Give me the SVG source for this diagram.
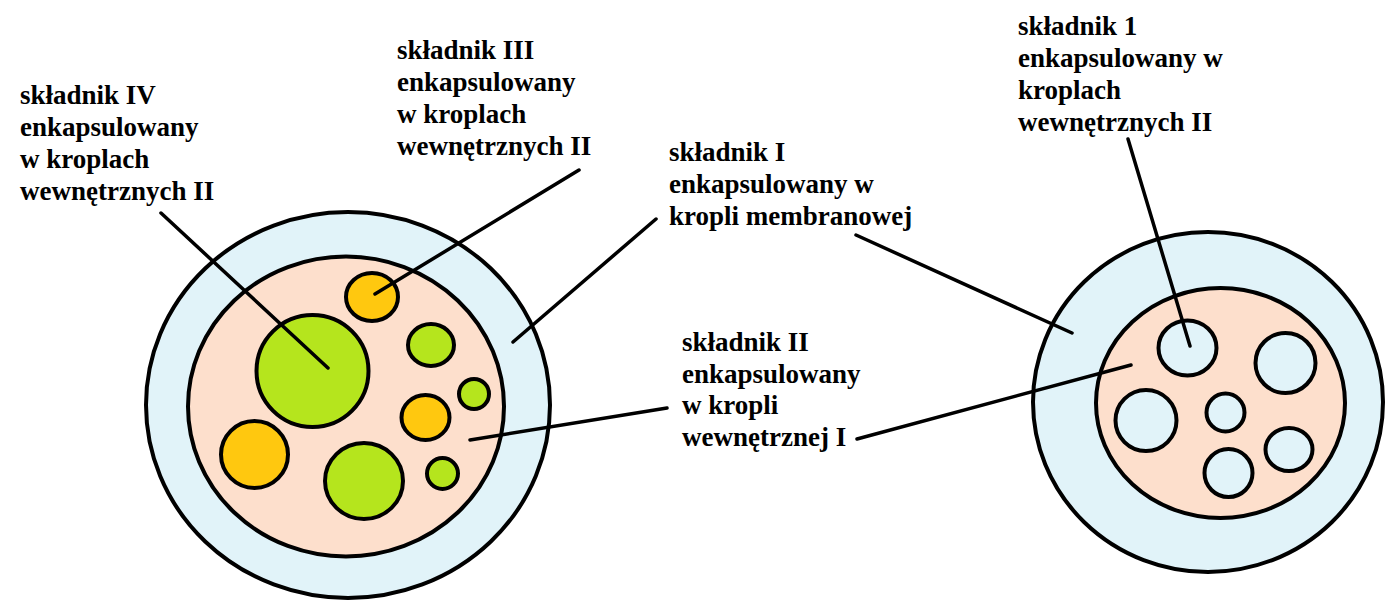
<svg xmlns="http://www.w3.org/2000/svg" width="1385" height="601" viewBox="0 0 1385 601">
  <style>
    .lbl { font-family: "Liberation Serif", "Times New Roman", serif; font-weight: bold; font-size: 27px; fill: #000; }
    .ring { fill: #E1F3F9; stroke: #000; stroke-width: 4; }
    .core { fill: #FDDFCC; stroke: #000; stroke-width: 4; }
    .green { fill: #B5E51D; stroke: #000; stroke-width: 4; }
    .orange { fill: #FFC80F; stroke: #000; stroke-width: 4; }
    .empty { fill: #E1F3F9; stroke: #000; stroke-width: 4; }
    .lead { stroke: #000; stroke-width: 3.5; stroke-linecap: round; fill: none; }
  </style>
  <rect width="1385" height="601" fill="#fff"/>

  <!-- double emulsion droplet with two active components -->
  <g id="droplet-left">
    <ellipse class="ring" cx="348" cy="405" rx="202" ry="193"/>
    <ellipse class="core" cx="346" cy="406.5" rx="158" ry="150"/>
    <circle class="green" cx="312.5" cy="371" r="56"/>
    <ellipse class="orange" cx="372" cy="297" rx="26" ry="24"/>
    <ellipse class="green" cx="431" cy="345" rx="23" ry="21"/>
    <circle class="green" cx="474" cy="394" r="15"/>
    <ellipse class="orange" cx="425.5" cy="417.5" rx="24" ry="22.5"/>
    <circle class="orange" cx="254.5" cy="454.5" r="33.5"/>
    <ellipse class="green" cx="364" cy="481" rx="39" ry="38"/>
    <circle class="green" cx="442.5" cy="473.5" r="15.5"/>
  </g>

  <!-- droplet with empty inner droplets -->
  <g id="droplet-right">
    <ellipse class="ring" cx="1208" cy="402" rx="175" ry="170"/>
    <ellipse class="core" cx="1220.5" cy="403" rx="124.5" ry="115"/>
    <ellipse class="empty" cx="1187.5" cy="348" rx="29" ry="27.5"/>
    <circle class="empty" cx="1285.5" cy="363" r="30"/>
    <circle class="empty" cx="1146" cy="420.5" r="30.5"/>
    <circle class="empty" cx="1225.5" cy="412.5" r="19"/>
    <ellipse class="empty" cx="1289" cy="449.5" rx="23.5" ry="21.5"/>
    <circle class="empty" cx="1228.5" cy="473" r="24"/>
  </g>

  <!-- leader lines -->
  <g id="connectors">
    <line class="lead" x1="161" y1="213" x2="328" y2="368"/>
    <line class="lead" x1="579" y1="170" x2="375" y2="294"/>
    <line class="lead" x1="656" y1="219" x2="513" y2="342"/>
    <line class="lead" x1="667" y1="408" x2="470" y2="440"/>
    <line class="lead" x1="856" y1="235" x2="1072" y2="333"/>
    <line class="lead" x1="857" y1="439" x2="1131" y2="365"/>
    <line class="lead" x1="1128" y1="139" x2="1190" y2="346"/>
  </g>

  <g id="label-IV">
    <text class="lbl" x="20" y="104">składnik IV</text>
    <text class="lbl" x="20" y="136">enkapsulowany</text>
    <text class="lbl" x="20" y="168">w kroplach</text>
    <text class="lbl" x="20" y="200">wewnętrznych II</text>
  </g>
  <g id="label-III">
    <text class="lbl" x="397" y="59">składnik III</text>
    <text class="lbl" x="397" y="91">enkapsulowany</text>
    <text class="lbl" x="397" y="123">w kroplach</text>
    <text class="lbl" x="397" y="155">wewnętrznych II</text>
  </g>
  <g id="label-I">
    <text class="lbl" x="669" y="161">składnik I</text>
    <text class="lbl" x="669" y="193">enkapsulowany w</text>
    <text class="lbl" x="669" y="225">kropli membranowej</text>
  </g>
  <g id="label-II">
    <text class="lbl" x="682" y="351">składnik II</text>
    <text class="lbl" x="682" y="383">enkapsulowany</text>
    <text class="lbl" x="682" y="414">w kropli</text>
    <text class="lbl" x="682" y="446">wewnętrznej I</text>
  </g>
  <g id="label-1">
    <text class="lbl" x="1018" y="35">składnik 1</text>
    <text class="lbl" x="1018" y="67">enkapsulowany w</text>
    <text class="lbl" x="1018" y="99">kroplach</text>
    <text class="lbl" x="1018" y="131">wewnętrznych II</text>
  </g>
</svg>
